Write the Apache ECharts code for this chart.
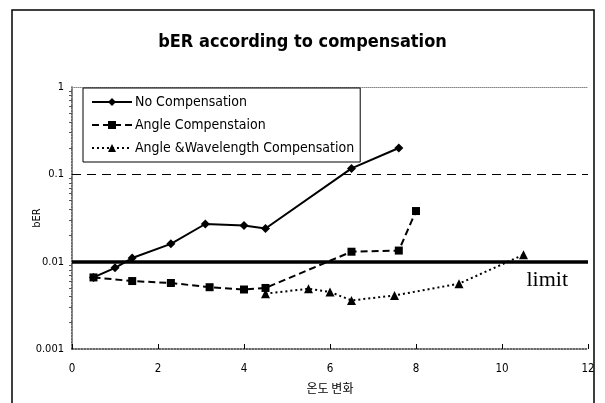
<!DOCTYPE html>
<html>
<head>
<meta charset="utf-8">
<script src="https://cdn.jsdelivr.net/npm/echarts@6/dist/echarts.min.js"></script>
<style>
html, body { margin: 0; padding: 0; background: #fff; }
#chart { width: 605px; height: 403px; }
</style>
</head>
<body>
<div id="chart"></div>
<script>
// Temperature change (x) and bit error rate for each compensation scheme
const noCompX = [0.5, 1.0, 1.4, 2.3, 3.1, 4.0, 4.5, 6.5, 7.6];
const noCompY = [0.0066, 0.0085, 0.011, 0.016, 0.027, 0.026, 0.024, 0.117, 0.2];

const angleX = [0.5, 1.4, 2.3, 3.2, 4.0, 4.5, 6.5, 7.6, 8.0];
const angleY = [0.0066, 0.006, 0.0057, 0.0051, 0.0048, 0.005, 0.013, 0.0134, 0.038];

const angleWlX = [4.5, 5.5, 6.0, 6.5, 7.5, 9.0, 10.5];
const angleWlY = [0.0043, 0.0049, 0.0045, 0.0036, 0.0041, 0.0056, 0.012];

const xTicks = [0, 2, 4, 6, 8, 10, 12];
const yTicks = [0.001, 0.01, 0.1, 1];
const refLine = 0.1;
const limitLine = 0.01;

const seriesNames = ['No Compensation', 'Angle Compenstaion', 'Angle &Wavelength Compensation'];

const pairs = (xs, ys) => xs.map((x, i) => [x, ys[i]]);

const condensed = '"DejaVu Sans Condensed", "DejaVu Sans", sans-serif';

const chart = echarts.init(document.getElementById('chart'), null, { renderer: 'canvas' });

chart.setOption({
  animation: false,
  backgroundColor: '#fff',
  title: {
    text: 'bER according to compensation',
    left: 'center',
    top: 28,
    textStyle: { fontFamily: condensed, fontWeight: 'bold', fontSize: 18, color: '#000' }
  },
  legend: {
    orient: 'vertical',
    left: 83,
    top: 88,
    padding: [7, 6, 7, 8],
    itemWidth: 40,
    itemHeight: 10,
    itemGap: 9,
    backgroundColor: '#fff',
    borderColor: '#000',
    borderWidth: 1,
    textStyle: { fontFamily: condensed, fontSize: 14, color: '#000', padding: [0, 0, 0, -2] },
    data: seriesNames
  },
  grid: { left: 72, right: 17, top: 87, bottom: 54 },
  xAxis: [{
    type: 'value',
    min: xTicks[0],
    max: xTicks[xTicks.length - 1],
    interval: 2,
    name: '온도 변화',
    nameLocation: 'middle',
    nameGap: 33,
    nameTextStyle: { fontFamily: '"Noto Sans CJK KR", sans-serif', fontSize: 12, color: '#000' },
    axisLine: { lineStyle: { color: '#333', type: 'dotted', width: 1.5 } },
    axisTick: { inside: true, length: 5, lineStyle: { color: '#000' } },
    axisLabel: { fontFamily: condensed, fontSize: 11.5, color: '#000', margin: 14 },
    splitLine: { show: false }
  }, {
    type: 'value',
    position: 'top',
    min: xTicks[0],
    max: xTicks[xTicks.length - 1],
    axisLine: { show: true, lineStyle: { color: '#888', type: 'dotted' } },
    axisTick: { show: false },
    axisLabel: { show: false },
    splitLine: { show: false }
  }],
  yAxis: [{
    type: 'log',
    logBase: 10,
    min: yTicks[0],
    max: yTicks[yTicks.length - 1],
    name: 'bER',
    nameLocation: 'middle',
    nameGap: 29,
    nameMoveOverlap: false,
    nameRotate: 90,
    nameTextStyle: { fontFamily: condensed, fontSize: 11, color: '#000' },
    axisLine: { show: true, lineStyle: { color: '#333', type: 'dotted', width: 1.5 } },
    axisTick: { show: false },
    minorTick: { show: true, splitNumber: 9, length: 3, lineStyle: { color: '#555' } },
    axisLabel: {
      fontFamily: condensed, fontSize: 11, color: '#000', margin: 8,
      formatter: v => String(+v.toPrecision(3))
    },
    splitLine: { show: false }
  }, {
    type: 'log',
    logBase: 10,
    position: 'right',
    min: yTicks[0],
    max: yTicks[yTicks.length - 1],
    axisLine: { show: true, lineStyle: { color: '#888', type: 'dotted' } },
    axisTick: { show: false },
    axisLabel: { show: false },
    splitLine: { show: false }
  }],
  series: [{
    name: seriesNames[0],
    type: 'line',
    data: pairs(noCompX, noCompY),
    symbol: 'diamond',
    symbolSize: 9,
    itemStyle: { color: '#000' },
    lineStyle: { color: '#000', width: 2, type: 'solid' },
    z: 5,
    markLine: {
      silent: true,
      symbol: 'none',
      data: [
        { yAxis: refLine, lineStyle: { color: '#000', width: 1, type: [9, 6] }, label: { show: false } },
        {
          yAxis: limitLine,
          lineStyle: { color: '#000', width: 3.5, type: 'solid' },
          label: {
            show: true,
            formatter: 'limit',
            position: 'insideEndBottom',
            distance: [20, 8],
            fontFamily: '"Liberation Serif", serif',
            fontSize: 22,
            color: '#000'
          }
        }
      ]
    }
  }, {
    name: seriesNames[1],
    type: 'line',
    data: pairs(angleX, angleY),
    symbol: 'rect',
    symbolSize: 8,
    itemStyle: { color: '#000' },
    lineStyle: { color: '#000', width: 2, type: [7, 4] },
    z: 4
  }, {
    name: seriesNames[2],
    type: 'line',
    data: pairs(angleWlX, angleWlY),
    symbol: 'triangle',
    symbolSize: 9,
    itemStyle: { color: '#000' },
    lineStyle: { color: '#000', width: 2, type: [2, 3] },
    z: 3
  }],
  graphic: [{
    type: 'rect',
    shape: { x: 12, y: 10, width: 582, height: 410 },
    style: { fill: 'none', stroke: '#000', lineWidth: 1.5 },
    silent: true,
    z: -1
  }]
});
</script>
</body>
</html>
